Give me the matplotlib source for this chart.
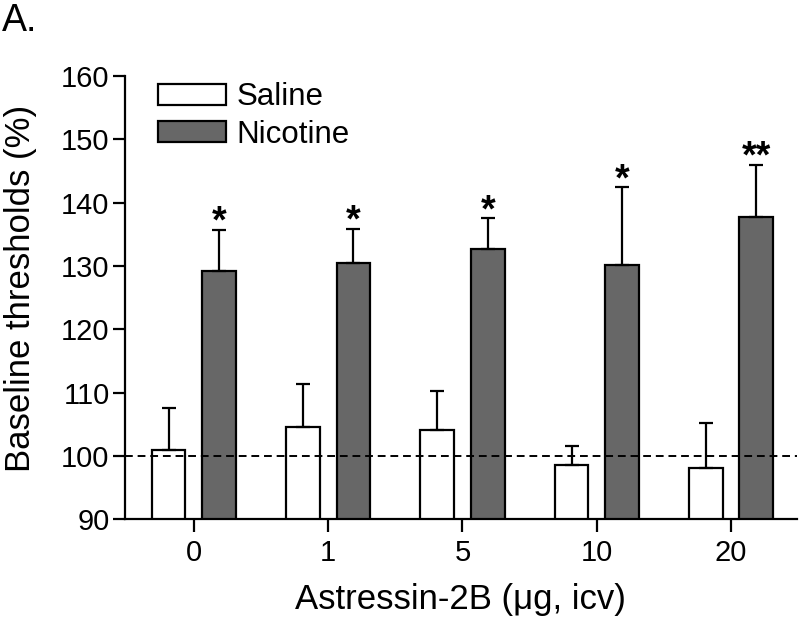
import matplotlib
matplotlib.use("Agg")
import matplotlib.pyplot as plt
import numpy as np

# data
doses = ["0", "1", "5", "10", "20"]
saline_mean = [100.9, 104.5, 104.0, 98.5, 98.1]
saline_sem = [6.7, 6.9, 6.2, 3.1, 7.1]
nicotine_mean = [129.2, 130.5, 132.7, 130.2, 137.7]
nicotine_sem = [6.5, 5.3, 4.8, 12.2, 8.2]
stars = ["*", "*", "*", "*", "**"]

plt.rcParams['font.family'] = ['Liberation Sans', 'DejaVu Sans']

fig = plt.figure(figsize=(8, 6.27), dpi=100)
ax = fig.add_axes([0.156, 0.172, 0.84, 0.707])

x = np.arange(len(doses))
w = 0.25
off = 0.188
err_kw = dict(ecolor='black', elinewidth=1.6, capsize=4.8, capthick=1.6)

ax.bar(x - off, saline_mean, w, color='white', edgecolor='black', linewidth=1.6,
       yerr=[np.zeros(len(x)), saline_sem], error_kw=err_kw, label='Saline', zorder=2)
ax.bar(x + off, nicotine_mean, w, color='#676767', edgecolor='black', linewidth=1.6,
       yerr=[np.zeros(len(x)), nicotine_sem], error_kw=err_kw, label='Nicotine', zorder=2)

# significance marks above the nicotine bars
for i in range(len(x)):
    top = nicotine_mean[i] + nicotine_sem[i]
    ax.annotate(stars[i], (x[i] + off, top), xytext=(0, -2), textcoords='offset points',
                ha='center', va='baseline', fontsize=27, fontweight='bold')

ax.axhline(100, color='black', linestyle=(0, (4, 2.5)), linewidth=1.4, zorder=3)

ax.set_ylim(90, 160)
ax.set_xlim(-0.515, 4.49)
ax.set_yticks(np.arange(90, 161, 10))
ax.set_xticks(x)
ax.set_xticklabels(doses)

for s in ['top', 'right']:
    ax.spines[s].set_visible(False)
for s in ['left', 'bottom']:
    ax.spines[s].set_linewidth(1.6)
ax.tick_params(axis='both', direction='out', length=9, width=1.6, labelsize=21)
ax.tick_params(axis='y', pad=2)
ax.tick_params(axis='x', pad=5)

ax.set_ylabel("Baseline thresholds (%)", fontsize=25)
ax.yaxis.set_label_coords(-0.131, 0.52)
ax.set_xlabel("Astressin-2B (\u03bcg, icv)", fontsize=25, labelpad=12)

leg = ax.legend(loc='upper left', bbox_to_anchor=(0.05, 0.986), frameon=False, fontsize=22.5,
                handlelength=2.15, handleheight=0.65, handletextpad=0.35, labelspacing=0.25,
                borderpad=0, borderaxespad=0)

fig.text(0.002, 0.995, "A.", fontsize=27, ha='left', va='top')

fig.savefig("out.png", dpi=100)
